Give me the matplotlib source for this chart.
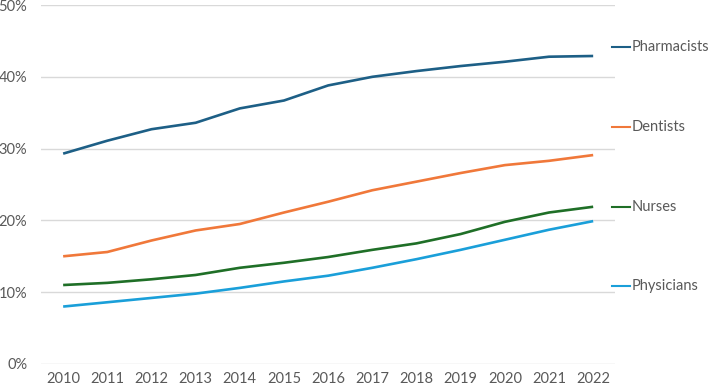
import numpy as np
import matplotlib.pyplot as plt
from matplotlib.ticker import PercentFormatter

years = list(range(2010, 2023))
pharmacists = [29.3, 31.1, 32.7, 33.6, 35.6, 36.7, 38.8, 40.0, 40.8, 41.5, 42.1, 42.8, 42.9]
dentists    = [15.0, 15.6, 17.2, 18.6, 19.5, 21.1, 22.6, 24.2, 25.4, 26.6, 27.7, 28.3, 29.1]
nurses      = [11.0, 11.3, 11.8, 12.4, 13.4, 14.1, 14.9, 15.9, 16.8, 18.1, 19.8, 21.1, 21.9]
physicians  = [8.0, 8.6, 9.2, 9.8, 10.6, 11.5, 12.3, 13.4, 14.6, 15.9, 17.3, 18.7, 19.9]

series = [("Pharmacists", pharmacists, "#1d5f86"),
          ("Dentists", dentists, "#f0783a"),
          ("Nurses", nurses, "#1f6f27"),
          ("Physicians", physicians, "#1a9fd9")]
label_y = [44.2, 33.0, 21.9, 10.9]

plt.rcParams['font.family'] = ['Lato', 'DejaVu Sans']
fig = plt.figure(figsize=(7.08, 3.86), dpi=100)
ax = fig.add_axes([0.058, 0.057, 0.811, 0.930])

x = np.arange(len(years))
for (name, vals, col), ly in zip(series, label_y):
    ax.plot(x, vals, color=col, lw=1.9, solid_capstyle='butt')
    # label with a short leader line, right of the plot
    ax.plot([0.995, 1.026], [ly, ly], color=col, lw=1.5,
            transform=ax.get_yaxis_transform(), clip_on=False)
    ax.annotate(name, xy=(1.0, ly), xycoords=('axes fraction', 'data'),
                xytext=(11.5, 0), textcoords='offset points',
                ha='left', va='center', fontsize=10.5, color='#595959')

ax.set_xlim(-0.5, len(years) - 0.5)
ax.set_ylim(0, 50)
ax.set_yticks([0, 10, 20, 30, 40, 50])
ax.yaxis.set_major_formatter(PercentFormatter(decimals=0))
ax.set_xticks(x)
ax.set_xticklabels([str(y) for y in years])
ax.tick_params(length=0, labelsize=10.5, colors='#595959')
ax.tick_params(axis='y', pad=10)
ax.tick_params(axis='x', pad=6)
ax.grid(axis='y', color='#d9d9d9', lw=1)
ax.set_axisbelow(True)
for s in ax.spines.values():
    s.set_visible(False)

fig.savefig("out.png", dpi=100)
